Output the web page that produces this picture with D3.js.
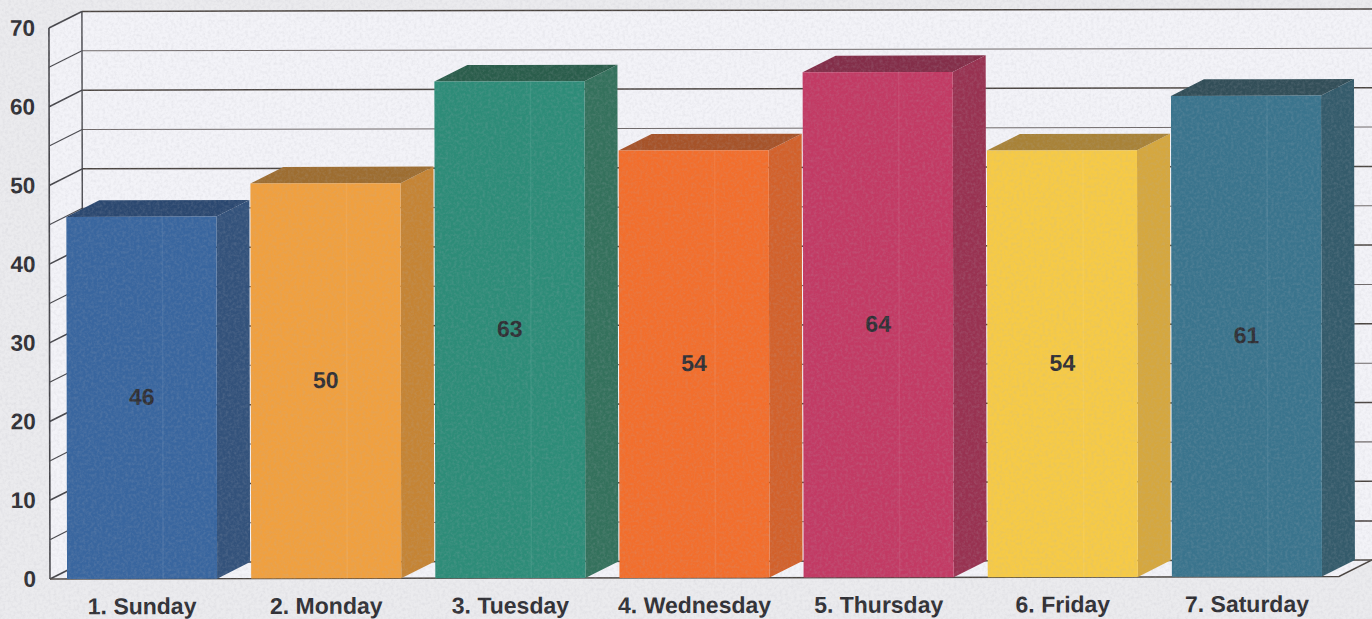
<!DOCTYPE html>
<html><head><meta charset="utf-8">
<style>html,body{margin:0;padding:0;background:#ebebee;overflow:hidden}svg{display:block}
text{font-family:"Liberation Sans",Arial,sans-serif;font-weight:bold;fill:#2f2f34}</style>
<script src="https://cdn.jsdelivr.net/npm/d3@7/dist/d3.min.js"></script></head><body>
<script>
const categories=["1. Sunday","2. Monday","3. Tuesday","4. Wednesday","5. Thursday","6. Friday","7. Saturday"];
const values=[46.0,50.2,63.1,54.3,64.2,54.2,61.1];
const labels=["46","50","63","54","64","54","61"];
const frontColors=["#39669f","#f0a03f","#2d8c78","#f26e2c","#c23a64","#f6ca46","#3a748d"];
const sideColors=["#33527b","#c58434","#34715c","#d2612b","#983251","#d5a73e","#345b6b"];
const topColors=["#2b4870","#9d6d30","#2a5d4b","#a65329","#832e49","#a88237","#324e58"];
const yTicks=[0,10,20,30,40,50,60,70];
const gridValues=d3.range(0,75,5);

const W=1372,H=619,dx=33,dy=16.5;
const svg=d3.select("body").append("svg").attr("width",W).attr("height",H);
const defs=svg.append("defs");
const f=defs.append("filter").attr("id","paper").attr("x",0).attr("y",0).attr("width","100%").attr("height","100%");
f.append("feTurbulence").attr("type","fractalNoise").attr("baseFrequency",0.35).attr("numOctaves",3).attr("seed",4);
f.append("feColorMatrix").attr("type","matrix").attr("values","0 0 0 0 0.45  0 0 0 0 0.45  0 0 0 0 0.5  1.2 0 0 0 -0.45");

const g=svg.append("g").attr("transform","rotate(-0.11 50 579)");
const x=d3.scaleBand().domain(categories).range([50,1339]).paddingInner(0.185).paddingOuter(0.0925);
const y=d3.scaleLinear().domain([0,70]).range([579,28]);
const pts=a=>a.map(p=>p.join(",")).join(" ");

// walls and floor
g.append("polygon").attr("points",pts([[50+dx,y(0)-dy],[W+10,y(0)-dy],[W+10,y(70)-dy],[50+dx,y(70)-dy]])).attr("fill","#f3f3f8");
g.append("polygon").attr("points",pts([[50,y(0)],[50+dx,y(0)-dy],[50+dx,y(70)-dy],[50,y(70)]])).attr("fill","#f3f3f8");
g.append("polygon").attr("points",pts([[50,y(0)],[1339,y(0)],[1339+dx,y(0)-dy],[50+dx,y(0)-dy]])).attr("fill","#f3f3f8");

// gridlines
g.append("g").selectAll("line.back").data(gridValues).join("line")
 .attr("x1",50+dx).attr("x2",W+10).attr("y1",d=>y(d)-dy).attr("y2",d=>y(d)-dy)
 .attr("stroke",d=>d%10===0?"#4a4440":"#6e6868").attr("stroke-width",d=>d%10===0?1.5:1.1);
g.append("g").selectAll("line.side").data(gridValues).join("line")
 .attr("x1",50).attr("x2",50+dx).attr("y1",d=>y(d)).attr("y2",d=>y(d)-dy)
 .attr("stroke","#45454a").attr("stroke-width",d=>d%10===0?1.6:1.1);
g.append("line").attr("x1",50).attr("x2",50).attr("y1",y(0)).attr("y2",y(70)).attr("stroke","#45454a").attr("stroke-width",1.6);
g.append("line").attr("x1",50+dx).attr("x2",50+dx).attr("y1",y(0)-dy).attr("y2",y(70)-dy).attr("stroke","#45454a").attr("stroke-width",1.4);
g.append("polyline").attr("points",pts([[50,y(0)],[1339,y(0)],[1339+dx,y(0)-dy]])).attr("fill","none").attr("stroke","#4a4440").attr("stroke-width",1.5);

// bars
const bars=g.append("g").selectAll("g").data(categories).join("g");
bars.append("polygon").attr("fill",(d,i)=>sideColors[i]).attr("points",(d,i)=>{
  const r=x(d)+x.bandwidth(),t=y(values[i]);
  return pts([[r,y(0)],[r+dx,y(0)-dy],[r+dx,t-dy],[r,t]]);});
bars.append("polygon").attr("fill",(d,i)=>topColors[i]).attr("points",(d,i)=>{
  const l=x(d),r=l+x.bandwidth(),t=y(values[i]);
  return pts([[l,t],[l+dx,t-dy],[r+dx,t-dy],[r,t]]);});
bars.append("rect").attr("x",d=>x(d)).attr("width",x.bandwidth())
  .attr("y",(d,i)=>y(values[i])).attr("height",(d,i)=>y(0)-y(values[i])).attr("fill",(d,i)=>frontColors[i]);
bars.append("line").attr("x1",d=>x(d)+x.bandwidth()*0.64).attr("x2",d=>x(d)+x.bandwidth()*0.64)
  .attr("y1",(d,i)=>y(values[i])).attr("y2",y(0)).attr("stroke","#fff").attr("stroke-opacity",0.07).attr("stroke-width",1.5);

// value labels
bars.append("text").attr("x",d=>x(d)+x.bandwidth()/2).attr("y",(d,i)=>y(values[i]/2)+7)
  .attr("text-anchor","middle").attr("font-size",23).text((d,i)=>labels[i]);

// axes
const yAxis=g.append("g").attr("transform","translate(48,0)").call(d3.axisLeft(y).tickValues(yTicks).tickSize(0).tickPadding(12));
yAxis.select(".domain").remove();
yAxis.selectAll("text").attr("font-size",22.5).style("font-family",'"Liberation Sans",Arial,sans-serif');
const xAxis=g.append("g").attr("transform","translate(0,587)").call(d3.axisBottom(x).tickSize(0).tickPadding(11));
xAxis.select(".domain").remove();
xAxis.selectAll("text").attr("font-size",23).style("font-family",'"Liberation Sans",Arial,sans-serif');

// scanned paper grain
svg.append("rect").attr("width",W).attr("height",H).attr("filter","url(#paper)").attr("opacity",0.3);
</script></body></html>
